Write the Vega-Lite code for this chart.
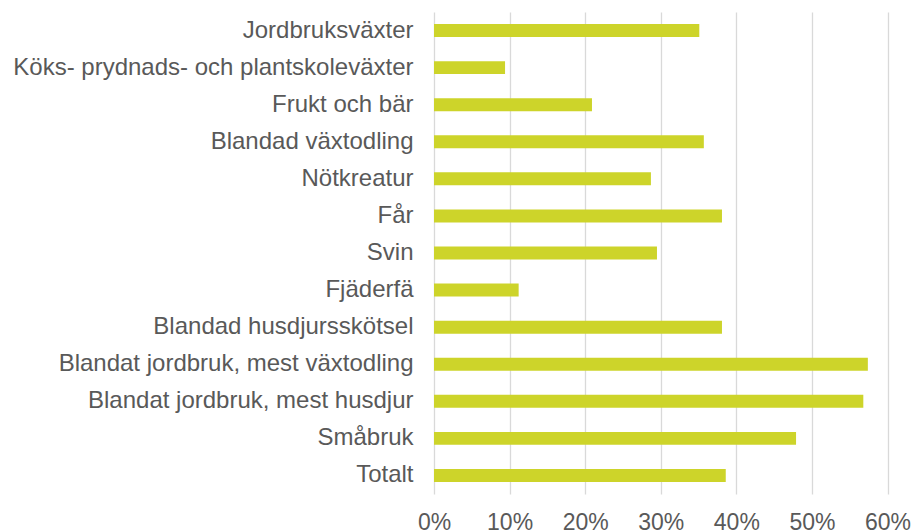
{
  "$schema": "https://vega.github.io/schema/vega-lite/v6.json",
  "width": 453.5,
  "height": 482,
  "autosize": {"type": "none"},
  "padding": {"left": 434, "top": 12, "right": 30, "bottom": 37},
  "background": "#ffffff",
  "config": {"view": {"stroke": null}},
  "data": {
    "values": [
      {"kategori": "Jordbruksväxter", "andel": 0.351},
      {"kategori": "Köks- prydnads- och plantskoleväxter", "andel": 0.094},
      {"kategori": "Frukt och bär", "andel": 0.209},
      {"kategori": "Blandad växtodling", "andel": 0.357},
      {"kategori": "Nötkreatur", "andel": 0.287},
      {"kategori": "Får", "andel": 0.381},
      {"kategori": "Svin", "andel": 0.295},
      {"kategori": "Fjäderfä", "andel": 0.112},
      {"kategori": "Blandad husdjursskötsel", "andel": 0.381},
      {"kategori": "Blandat jordbruk, mest växtodling", "andel": 0.574},
      {"kategori": "Blandat jordbruk, mest husdjur", "andel": 0.568},
      {"kategori": "Småbruk", "andel": 0.479},
      {"kategori": "Totalt", "andel": 0.386}
    ]
  },
  "mark": {"type": "bar", "color": "#CDD42A"},
  "encoding": {
    "y": {
      "field": "kategori",
      "type": "nominal",
      "sort": null,
      "scale": {"paddingInner": 0.65, "paddingOuter": 0.325},
      "axis": {
        "title": null,
        "domain": false,
        "ticks": false,
        "grid": false,
        "labelFont": "Arial, Liberation Sans, sans-serif",
        "labelFontSize": 24,
        "labelColor": "#595959",
        "labelPadding": 21,
        "labelLimit": 600
      }
    },
    "x": {
      "field": "andel",
      "type": "quantitative",
      "scale": {"domain": [0, 0.6], "nice": false},
      "axis": {
        "title": null,
        "format": ".0%",
        "values": [0, 0.1, 0.2, 0.3, 0.4, 0.5, 0.6],
        "domain": false,
        "ticks": false,
        "grid": true,
        "gridColor": "#D9D9D9",
        "gridWidth": 1.3,
        "labelFont": "Arial, Liberation Sans, sans-serif",
        "labelFontSize": 23,
        "labelColor": "#595959",
        "labelPadding": 17,
        "labelFlush": false
      }
    }
  }
}
